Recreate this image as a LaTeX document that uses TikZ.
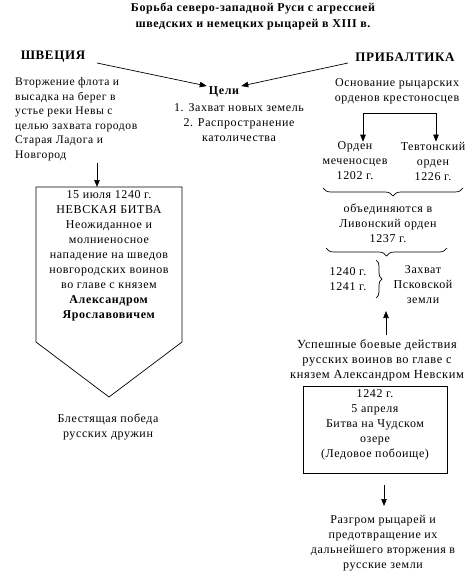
\documentclass[tikz,border=0pt]{standalone}
\usepackage{fontspec}
\setmainfont{Liberation Serif}[LetterSpace=5]
\usetikzlibrary{arrows.meta,decorations.pathreplacing}
\begin{document}
\begin{tikzpicture}[x=1pt,y=1pt,
  txt/.style={font=\fontsize{12}{15}\selectfont, align=center, inner sep=0pt},
  ttl/.style={font=\bfseries\fontsize{12}{16}\selectfont, align=center, inner sep=0pt},
  cnt/.style={font=\bfseries\fontsize{13}{16}\selectfont, inner sep=0pt},
  ln/.style={line width=0.7pt},
  arr/.style={ln, -{Triangle[length=7pt,width=5.5pt]}},
  brc/.style={ln, decorate, decoration={brace, amplitude=8pt}}]
\useasboundingbox (0,0) rectangle (472,-572);

% title
\node[ttl] (title) at (253,-16) {Борьба северо-западной Руси с агрессией\\шведских и немецких рыцарей в XIII в.};

\node[cnt] (shv) at (53,-57) {ШВЕЦИЯ};
\node[cnt] (prib) at (405,-57) {ПРИБАЛТИКА};

% goals
\node[font=\bfseries\fontsize{12}{15}\selectfont, inner sep=0pt] (celi) at (224,-92) {Цели};
\node[txt] (goals) at (239,-123) {1. Захват новых земель\\2. Распространение\\католичества};
\coordinate (shvS) at (97,-63);
\coordinate (pribS) at (348,-63);
\draw[arr] (shvS) -- ([xshift=-2pt,yshift=6pt]celi.west);
\draw[arr] (pribS) -- ([xshift=2pt,yshift=6pt]celi.east);

% left
\node[txt, align=left, anchor=west, font=\fontsize{11.6}{14.5}\selectfont] (inv) at (15,-119) {Вторжение флота и\\высадка на берег в\\устье реки Невы с\\целью захвата городов\\Старая Ладога и\\Новгород};
\coordinate (invS) at (97,-163);
\coordinate (pentT) at (97,-187);
\draw[arr] (invS) -- (pentT);

\draw[ln] (36,-187) -- (182,-187) -- (182,-342) -- (109,-397) -- (36,-342) -- cycle;
\node[txt] (neva) at (109,-256) {15 июля 1240 г.\\НЕВСКАЯ БИТВА\\Неожиданное и\\молниеносное\\нападение на шведов\\новгородских воинов\\во главе с князем\\\textbf{Александром}\\\textbf{Ярославовичем}};

\node[txt] (vict) at (108,-427) {Блестящая победа\\русских дружин};

% right
\node[txt] (osn) at (397,-91) {Основание рыцарских\\орденов крестоносцев};
\node[txt] (mech) at (355,-161) {Орден\\меченосцев\\1202 г.};
\node[txt] (tevt) at (433,-161) {Тевтонский\\орден\\1226 г.};
\coordinate (bL) at (363,-113);
\coordinate (bR) at (436,-113);
\draw[ln] (bL) -- (bR);
\draw[arr] (bL) -- (bL |- mech.north);
\draw[arr] (bR) -- (bR |- tevt.north);

\coordinate (b1R) at (463,-188);
\coordinate (b1L) at (323,-188);
\draw[brc] (b1R) -- (b1L);
\node[txt] (liv) at (388,-223) {объединяются в\\Ливонский орден\\1237 г.};
\coordinate (b2R) at (447,-248);
\coordinate (b2L) at (326,-248);
\draw[brc] (b2R) -- (b2L);

\node[txt] (yrs) at (348,-279) {1240 г.\\1241 г.};
\coordinate (b3T) at (376,-260);
\coordinate (b3B) at (376,-298);
\draw[brc, decoration={brace, amplitude=6pt}] (b3T) -- (b3B);
\node[txt] (psk) at (423,-285) {Захват\\Псковской\\земли};

\node[txt, font=\fontsize{12.4}{15}\selectfont] (usp) at (377,-360) {Успешные боевые действия\\русских воинов во главе с\\князем Александром Невским};
\coordinate (uspN) at (386,-335);
\coordinate (pskS) at (386,-311);
\draw[arr] (uspN) -- (pskS);

\draw[ln] (303,-386) rectangle (447,-473);
\node[txt] (chud) at (375,-425) {1242 г.\\5 апреля\\Битва на Чудском\\озере\\(Ледовое побоище)};
\coordinate (boxS) at (384,-485);
\coordinate (razN) at (384,-506);
\draw[arr] (boxS) -- (razN);
\node[txt] (raz) at (383,-543) {Разгром рыцарей и\\предотвращение их\\дальнейшего вторжения в\\русские земли};
\end{tikzpicture}
\end{document}
